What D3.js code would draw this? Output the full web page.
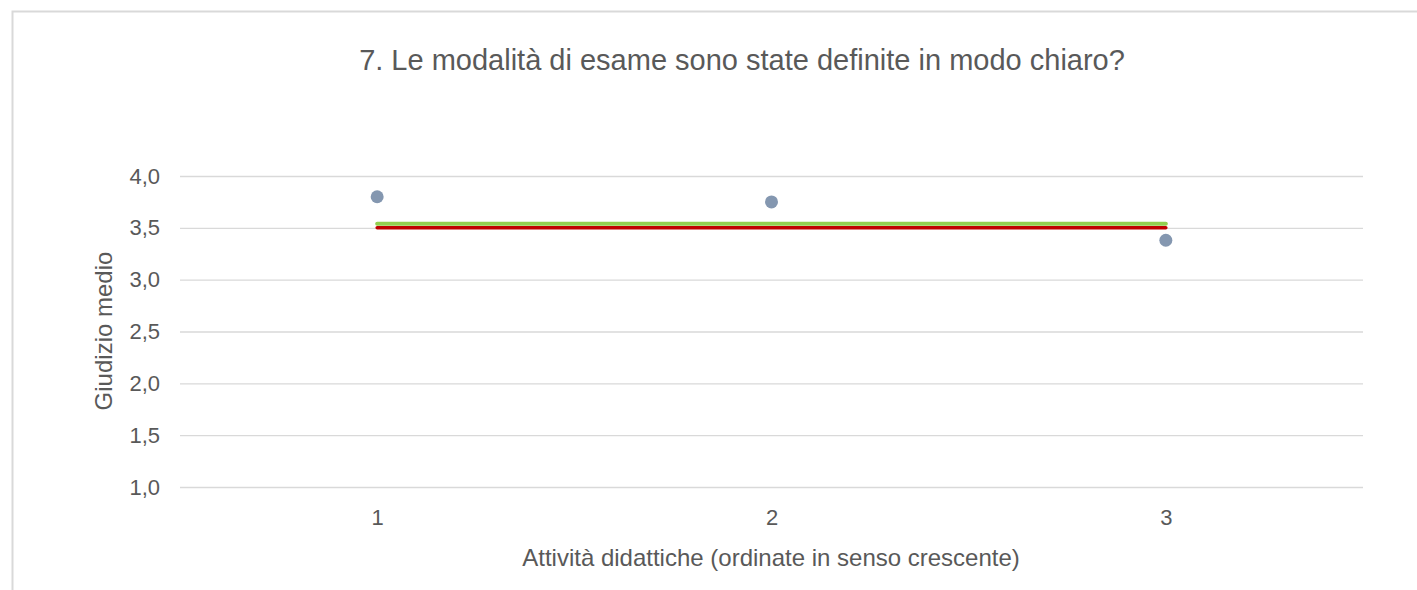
<!DOCTYPE html>
<html>
<head>
<meta charset="utf-8">
<script src="https://cdn.jsdelivr.net/npm/d3@7"></script>
<style>
    body { margin: 0; background: #fff; }
    svg text { font-family: "Liberation Sans", Arial, sans-serif; fill: #595959; }
</style>
</head>
<body>
<svg id="chart"></svg>
<script>
// data
var categories = [1, 2, 3];
var giudizi = [3.80, 3.75, 3.38];
var mediaLine = [3.54, 3.54, 3.54];   // green
var sogliaLine = [3.5, 3.5, 3.5];     // red
var yTicks = [1.0, 1.5, 2.0, 2.5, 3.0, 3.5, 4.0];

var width = 1417, height = 590;
var margin = {top: 176, right: 54, bottom: 103, left: 180};

var svg = d3.select("#chart")
    .attr("width", width)
    .attr("height", height);

// outer frame (cut off at right and bottom)
svg.append("rect")
    .attr("x", 12.5)
    .attr("y", 11.5)
    .attr("width", width + 20)
    .attr("height", height + 20)
    .attr("fill", "none")
    .attr("stroke", "#d9d9d9")
    .attr("stroke-width", 2);

var x = d3.scaleLinear()
    .domain([0.5, 3.5])
    .range([margin.left, width - margin.right]);

var y = d3.scaleLinear()
    .domain([1, 4])
    .range([height - margin.bottom, margin.top]);

var fmt = function(d) { return d3.format(".1f")(d).replace(".", ","); };

// gridlines
var grid = svg.append("g")
    .attr("transform", "translate(" + margin.left + ",0)")
    .call(d3.axisLeft(y).tickValues(yTicks).tickSize(-(width - margin.left - margin.right)).tickFormat(""));
grid.select(".domain").remove();
grid.selectAll("line").attr("stroke", "#d9d9d9").attr("stroke-width", 1.3);

// y tick labels
var yAxis = svg.append("g")
    .attr("transform", "translate(" + margin.left + ",0)")
    .call(d3.axisLeft(y).tickValues(yTicks).tickSize(0).tickPadding(20).tickFormat(fmt));
yAxis.select(".domain").remove();
yAxis.selectAll("text").style("font-size", "22px").style("fill", "#595959");

// x tick labels
var xAxis = svg.append("g")
    .attr("transform", "translate(0," + (height - margin.bottom) + ")")
    .call(d3.axisBottom(x).tickValues(categories).tickSize(0).tickPadding(22).tickFormat(d3.format("d")));
xAxis.select(".domain").remove();
xAxis.selectAll("text").style("font-size", "22px").style("fill", "#595959");

var line = d3.line()
    .x(function(d, i) { return x(categories[i]); })
    .y(function(d) { return y(d); });

svg.append("path")
    .datum(sogliaLine)
    .attr("d", line)
    .attr("fill", "none")
    .attr("stroke", "#c00000")
    .attr("stroke-width", 3.5)
    .attr("stroke-linecap", "round");

svg.append("path")
    .datum(mediaLine)
    .attr("d", line)
    .attr("fill", "none")
    .attr("stroke", "#92d050")
    .attr("stroke-width", 4)
    .attr("stroke-linecap", "round");

svg.selectAll(".punto")
    .data(giudizi)
    .enter().append("circle")
    .attr("class", "punto")
    .attr("cx", function(d, i) { return x(categories[i]); })
    .attr("cy", function(d) { return y(d); })
    .attr("r", 6.5)
    .attr("fill", "#8497b0");

// titles
svg.append("text")
    .attr("x", 742)
    .attr("y", 70)
    .attr("text-anchor", "middle")
    .style("font-size", "29px")
    .text("7. Le modalità di esame sono state definite in modo chiaro?");

svg.append("text")
    .attr("x", 771)
    .attr("y", 566)
    .attr("text-anchor", "middle")
    .style("font-size", "24px")
    .text("Attività didattiche (ordinate in senso crescente)");

svg.append("text")
    .attr("transform", "translate(112,331) rotate(-90)")
    .attr("text-anchor", "middle")
    .style("font-size", "24px")
    .text("Giudizio medio");
</script>
</body>
</html>
